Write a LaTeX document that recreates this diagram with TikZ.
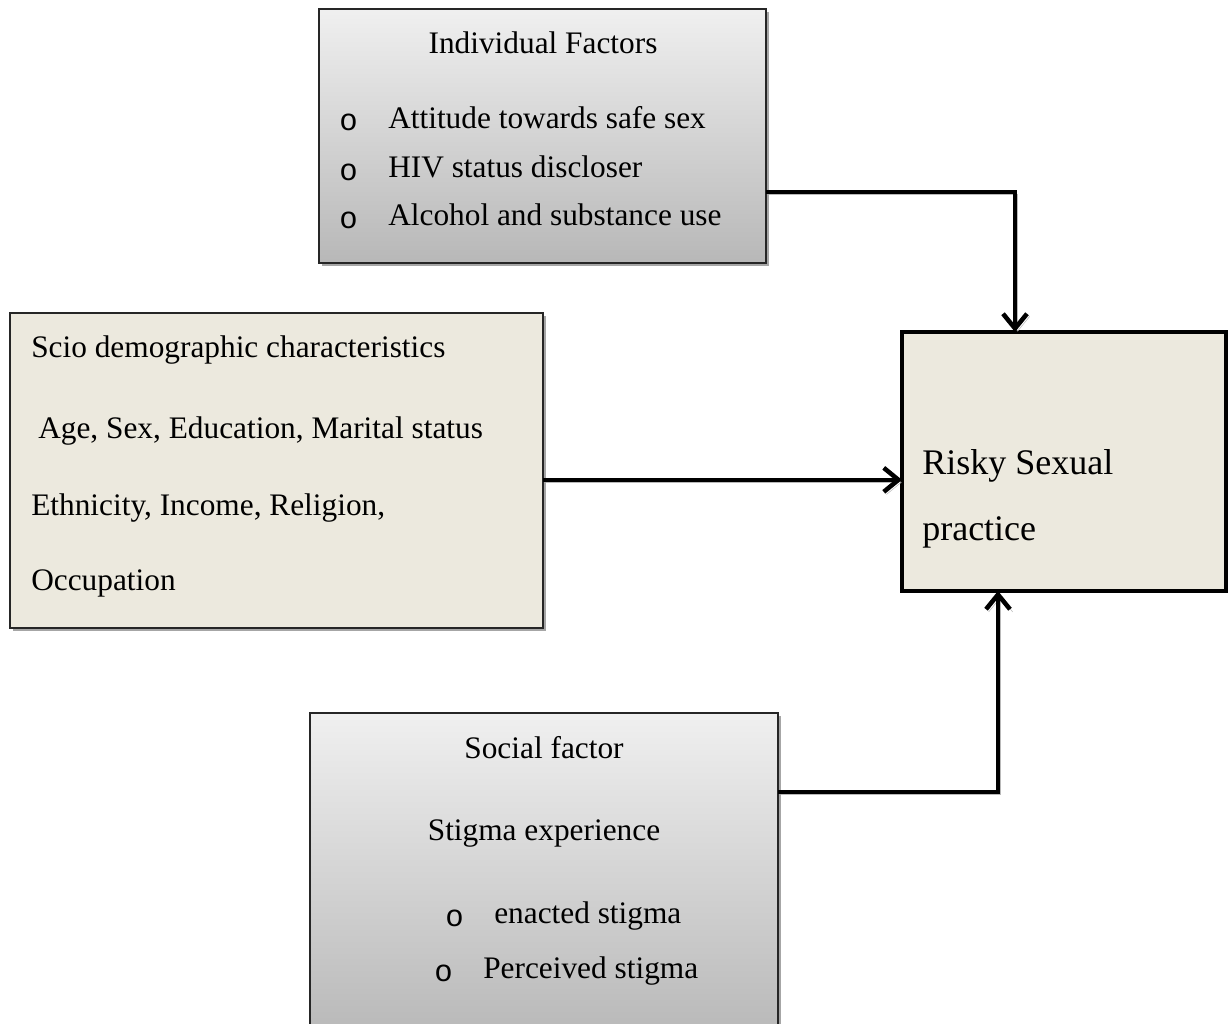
\documentclass[tikz,border=0pt]{standalone}
\usepackage{fontspec}
\setmainfont{Liberation Serif}
\newfontfamily\bulletfont{Liberation Mono}
\usepackage{tikz}
\usetikzlibrary{positioning,arrows.meta,shadows}
\definecolor{beige}{RGB}{236,233,222}
\tikzset{
factorbox/.style = {rectangle, draw=black!85, line width=1pt, anchor=north west,
  inner sep=0pt, outer sep=0pt, top color=gray!12, bottom color=gray!56,
  drop shadow={shadow xshift=2.5pt, shadow yshift=-2.5pt, fill=gray!70, opacity=1}},
sociobox/.style = {rectangle, draw=black!85, line width=1pt, anchor=north west,
  inner sep=0pt, outer sep=0pt, fill=beige,
  drop shadow={shadow xshift=2.5pt, shadow yshift=-2.5pt, fill=gray!70, opacity=1}},
outcomebox/.style = {rectangle, draw=black, line width=3pt, anchor=north west,
  inner sep=0pt, outer sep=0pt, fill=beige},
txt/.style = {inner sep=0pt, font=\fontsize{23.5}{28}\selectfont},
head/.style = {txt, anchor=base},
item/.style = {txt, anchor=base west},
dot/.style = {inner sep=0pt, anchor=base west, font=\bulletfont\fontsize{23}{26}\selectfont},
bigtxt/.style = {inner sep=0pt, anchor=base west, font=\fontsize{27}{32}\selectfont},
link/.style = {line width=3.4pt, -{Straight Barb[length=11pt,width=18pt]},
  preaction={draw=gray!55, transform canvas={shift={(2pt,-2pt)}}}}
}
\begin{document}
\begin{tikzpicture}[x=0.75pt, y=-0.75pt]
  \useasboundingbox (0,0) rectangle (1228,1024);
  \clip (0,0) rectangle (1228,1024);
  % boxes
  \node [factorbox, minimum width=335.25pt, minimum height=190.5pt] (indiv) at (319,9) {};
  \node [sociobox, minimum width=399.75pt, minimum height=236.25pt] (scio) at (10,313) {};
  \node [factorbox, minimum width=351pt, minimum height=245.25pt] (social) at (310,713) {};
  \node [outcomebox, minimum width=243pt, minimum height=194.25pt] (risk) at (902,332) {};
  % individual factors
  \node [head] (indivhead) at (543,54) {Individual Factors};
  \node [dot] (dot1) at (339,131) {o};
  \node [item] (item1) at (388,128) {Attitude towards safe sex};
  \node [dot] (dot2) at (339,180) {o};
  \node [item] (item2) at (388,177) {HIV status discloser};
  \node [dot] (dot3) at (339,228) {o};
  \node [item] (item3) at (388,225) {Alcohol and substance use};
  % socio demographic
  \node [item] (sciohead) at (31,357) {Scio demographic characteristics};
  \node [item] (scio1) at (38,438) {Age, Sex, Education, Marital status};
  \node [item] (scio2) at (31,515) {Ethnicity, Income, Religion,};
  \node [item] (scio3) at (31,590) {Occupation};
  % social factor
  \node [head] (socialhead) at (544,758) {Social factor};
  \node [head] (stigma) at (544,840) {Stigma experience};
  \node [dot] (dot4) at (445,926) {o};
  \node [item] (item4) at (494,923) {enacted stigma};
  \node [dot] (dot5) at (434,981) {o};
  \node [item] (item5) at (483,978) {Perceived stigma};
  % outcome
  \node [bigtxt] (risk1) at (922,474) {Risky Sexual};
  \node [bigtxt] (risk2) at (922,540) {practice};
  % connectors
  \draw [link] ([yshift=-42pt]indiv.east) -| ([xshift=-36.75pt]risk.north);
  \draw [link] ([yshift=-7pt]scio.east) -- ([yshift=-7pt]scio.east -| risk.west);
  \draw [link] ([yshift=-59.25pt]social.north east) -| ([xshift=-49.5pt]risk.south);
\end{tikzpicture}
\end{document}
